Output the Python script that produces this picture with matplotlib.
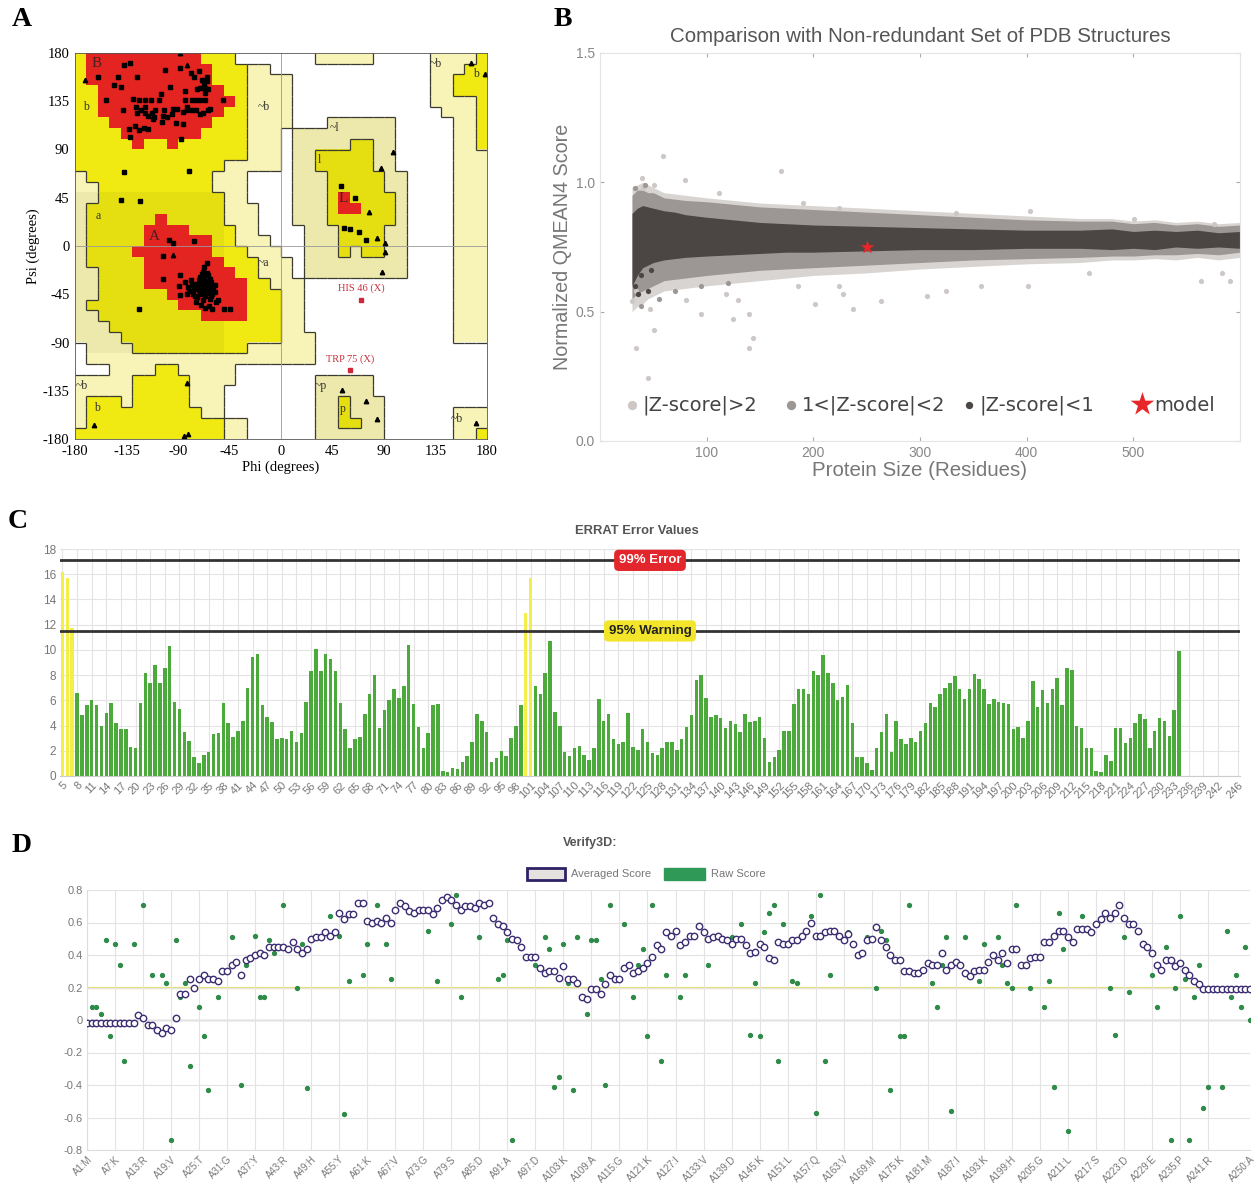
import numpy as np
import matplotlib
matplotlib.use("Agg")
import matplotlib.pyplot as plt
import matplotlib.transforms as mtrans
from matplotlib.collections import LineCollection
from matplotlib.colors import ListedColormap

W, H = 1256, 1187

def frame(l, t, r, b):
    return [l / W, 1 - b / H, (r - l) / W, (b - t) / H]

# ---------------- data: A (Ramachandran) ----------------
# one row per 10 deg of psi (top row = 170..180), columns = phi bins of 10 deg from -180
# P = generously allowed, Y = additional allowed, R = most favoured
rama_rows = [
    "Y0 R1-10 Y11-13 P21-25 P31-34 Y35",
    "Y0 R1-11 Y12-14 P15-16 P31-33 Y34-35",
    "Y0 R1-11 Y12-14 P15-18 P31-32 Y33-35",
    "Y0-1 R2-12 Y13-14 P15-18 P31-32 Y33-35",
    "Y0-1 R2-13 Y14 P15-18 P31-34 Y35",
    "Y0-1 R2-12 Y13-14 P15-18 P32-34 Y35",
    "Y0-2 R3-11 Y12-14 P15-18 P22-27 P33-34 Y35",
    "Y0-3 R4-10 Y11-14 P15-17 P19-27 P33-34 Y35",
    "Y0-4 R5 Y6-7 R8 Y9-14 P15-17 P19-23 Y24-25 P26-27 P33-34 Y35",
    "Y0-14 P15-17 P19-20 Y21-25 P26-27 P33-35",
    "Y0-12 P13-17 P19-20 Y21-25 P26-27 P33-35",
    "P0 Y1-11 P12-14 P19-21 Y22-26 P27-28 P33-35",
    "P0-1 Y2-11 P12-14 P19-21 Y22-26 P27-28 P33-35",
    "P0-1 Y2-12 P13-14 P19-21 Y22 R23 Y24-27 P28 P33-35",
    "P0 Y1-12 P13-15 P19-21 Y22 R23-24 Y25-27 P28 P33-35",
    "P0 Y1-6 R7 Y8-12 P13-15 P19-21 Y22-27 P28 P33-35",
    "P0 Y1-5 R6-9 Y10-13 P14-15 P20-22 Y23-26 P27-28 P33-35",
    "P0 Y1-5 R6-11 Y12-13 P14-16 P20-22 Y23-26 P27-28 P33-35",
    "P0 Y1-4 R5-11 Y12-14 P15-17 P20-22 Y23 P24 Y25-26 P27-28 P33-35",
    "P0 Y1-5 R6-12 Y13-15 P16-18 P20-28 P33-35",
    "P0-1 Y2-5 R6-13 Y14-15 P16-18 P20-28 P33-35",
    "P0-1 Y2-5 R6-14 Y15-16 P17-19 P33-35",
    "P0-1 Y2-7 R8-14 Y15-17 P18-19 P33-35",
    "P0 Y1-8 R9-14 Y15-17 P18-19 P33-35",
    "P0-1 Y2-10 R11-14 Y15-17 P18-19 P33-35",
    "P0-2 Y3-17 P18-19 P33-35",
    "P0-3 Y4-17 P18-20 P33-35",
    "P1-4 Y5-14 P15-20",
    "P1-20",
    "P3-6 Y7-8 P9-13",
    "P0-4 Y5-9 P10-13 P21-25",
    "P0-4 Y5-9 P10-12 P21-25",
    "P0 Y1-3 P4 Y5-9 P10-12 P21-22 Y23 P24-26",
    "P0 Y1-10 P11-12 P21-22 Y23 P24-26 P33-35",
    "P0 Y1-12 P13-14 P21-22 Y23-24 P25-26 P33-35",
    "Y0-12 P13-14 P21-26 P33-34 Y35",
]
# blocks (rows, cols) that look a little darker in the scanned plot
shade_blocks = [(13, 27, 0, 12), (6, 20, 19, 28), (30, 35, 21, 26)]

# residues (phi, psi), non-glycine
res_phi = [-160, -153, -146, -142, -140, -137, -132, -138, -133, -132, -126, -129, -127, -126,
           -124, -122, -124, -120, -119, -119, -119, -116, -114, -113, -111, -110, -107, -105,
           -102, -101, -100, -97, -95, -94, -92, -91, -88, -87, -86, -84, -84, -82, -79, -78,
           -76, -72, -71, -71, -69, -67, -66, -66, -65, -71, -68, -64, -62, -65, -74, -82, -78,
           -86, -103, -104, -116, -128, -112, -51, -66, -64, -74, -73,
           -98, -94, -76, -103, -103, -88, -89, -88, -79, -78, -76, -74, -72, -71, -69, -68, -67,
           -65, -64, -62, -61, -60, -68, -71, -73, -77, -80, -81, -75, -72, -69, -66, -64, -62,
           -61, -65, -70, -68, -66, -63, -58, -55, -58, -50, -45, -57, -59, -66, -63, -70, -73,
           -67, -64, -70, -66, -68, -72, -62, -60, -74, -78, -84, -82, -65, -69,
           -137, -80, -140, -123, -124, 52, 65, 55, 60, 68, 74]
res_psi = [158, 136, 150, 158, 148, 169, 171, 127, 109, 102, 158, 137, 130, 124,
           136, 127, 108, 110, 136, 130, 124, 121, 136, 124, 120, 127, 136, 142,
           127, 164, 120, 148, 123, 128, 115, 128, 166, 100, 114, 136, 145, 130, 161, 136,
           158, 163, 147, 136, 155, 152, 147, 136, 154, 123, 124, 127, 128, 158, 127, 127, 127,
           125, 121, 116, 109, 112, 118, 136, 143, 146, 136, 146,
           6, 3, 5, -9, -31, -27, -37, -46, -32, -42, -40, -35, -32, -29, -26, -24, -20,
           -16, -27, -31, -47, -59, -50, -45, -48, -45, -42, -38, -47, -41, -38, -38, -41, -38,
           -34, -33, -35, -43, -47, -44, -36, -50, -43, -59, -59, -52, -40, -58, -56, -55, -38,
           -30, -36, -40, -43, -35, -36, -49, -45, -52, -36, -34, -45, -25, -31,
           69, 70, 43, 42, -59, 56, 45, 17, 16, 13, 6]
# glycines (phi, psi)
gly_phi = [-171, -88, -82, -94, 98, 87, 77, 84, 91, 91, 88, 53, 74, 84, -82, -163, -85, -81,
           166, 178, 170]
gly_psi = [155, 180, 169, -8, 88, 73, 32, 7, 3, -6, -24, -134, -145, -161, -128, -167, -177,
           -175, 171, 160, -165]
outlier_names = ["HIS 46 (X)", "TRP 75 (X)"]
outlier_phi = [70, 60]
outlier_psi = [-50, -116]
region_labels = ["B", "b", "A", "a", "~b", "~l", "l", "L", "~a", "~b", "b", "~p", "p",
                 "~b", "b", "~b"]
region_phi = [-161, -170, -111, -160, -15, 47, 34, 54, -15, -174, -161, 35, 54, 135, 170, 154]
region_psi = [170, 130, 9, 28, 130, 110, 80, 44, -16, -131, -151, -131, -152, 170, 160, -161]

# ---------------- data: B (QMEAN) ----------------
q_size = [30, 35, 40, 45, 50, 60, 70, 80, 100, 125, 150, 175, 200, 250, 300, 350, 400,
          450, 480, 500, 520, 540, 560, 580, 600]
dark_top = [0.88, 0.90, 0.91, 0.905, 0.90, 0.89, 0.885, 0.875, 0.865, 0.855, 0.845, 0.84,
            0.835, 0.83, 0.825, 0.82, 0.815, 0.815, 0.82, 0.81, 0.815, 0.81, 0.815, 0.805, 0.81]
dark_bot = [0.60, 0.64, 0.67, 0.68, 0.69, 0.70, 0.705, 0.71, 0.715, 0.72, 0.725, 0.73,
            0.73, 0.735, 0.74, 0.74, 0.745, 0.745, 0.74, 0.745, 0.74, 0.75, 0.745, 0.75, 0.745]
mid_top = [0.95, 0.97, 0.97, 0.96, 0.96, 0.94, 0.935, 0.93, 0.925, 0.915, 0.905, 0.90,
           0.895, 0.885, 0.875, 0.865, 0.855, 0.85, 0.85, 0.84, 0.845, 0.835, 0.84, 0.83, 0.835]
mid_bot = [0.55, 0.57, 0.58, 0.59, 0.60, 0.62, 0.625, 0.63, 0.64, 0.65, 0.66, 0.665,
           0.67, 0.68, 0.69, 0.70, 0.705, 0.71, 0.715, 0.715, 0.72, 0.72, 0.725, 0.72, 0.73]
light_top = [0.98, 0.99, 1.0, 0.99, 0.98, 0.96, 0.955, 0.95, 0.94, 0.93, 0.92, 0.915,
             0.91, 0.90, 0.89, 0.88, 0.87, 0.86, 0.86, 0.85, 0.855, 0.845, 0.85, 0.84, 0.845]
light_bot = [0.50, 0.52, 0.53, 0.55, 0.56, 0.58, 0.585, 0.59, 0.60, 0.61, 0.62, 0.63,
             0.64, 0.65, 0.665, 0.675, 0.685, 0.69, 0.70, 0.70, 0.705, 0.70, 0.71, 0.70, 0.71]
light_x = [59, 170, 80, 39, 51, 34, 45, 51, 47, 95, 125, 140, 143, 140, 81, 237, 263, 228,
           307, 401, 563, 591, 583, 202, 186, 129, 118, 324, 357, 30, 34, 224, 458, 334,
           403, 576, 501, 112, 190, 224, 40]
light_y = [1.10, 1.045, 1.01, 1.015, 0.99, 0.36, 0.245, 0.43, 0.51, 0.49, 0.47, 0.36, 0.40,
           0.49, 0.545, 0.51, 0.54, 0.57, 0.56, 0.60, 0.62, 0.62, 0.65, 0.53, 0.60, 0.545,
           0.57, 0.58, 0.60, 0.54, 0.58, 0.60, 0.65, 0.88, 0.89, 0.84, 0.86, 0.96, 0.92, 0.90,
           0.98]
mid_x = [36, 55, 70, 33, 42, 38, 95, 120]
mid_y = [0.57, 0.55, 0.58, 0.98, 0.99, 0.52, 0.60, 0.61]
dark_x = [33, 36, 45, 38, 48]
dark_y = [0.60, 0.57, 0.58, 0.64, 0.66]
model_size, model_score = 250, 0.75

# ---------------- data: C (ERRAT) ----------------
errat_first = 5
errat_vals = [
    16.2, 15.7, 11.7, 6.6, 4.8, 5.6, 6.0, 5.6, 4.0, 5.0,
    5.8, 4.2, 3.7, 3.7, 2.3, 2.2, 5.8, 8.2, 7.4, 8.8,
    7.4, 8.6, 10.3, 5.9, 5.3, 3.5, 2.8, 1.5, 1.0, 1.7,
    1.9, 3.3, 3.4, 5.8, 4.2, 3.1, 3.6, 4.4, 7.0, 9.4,
    9.7, 5.6, 4.7, 4.3, 2.9, 3.0, 2.9, 3.6, 2.7, 3.4,
    5.9, 8.3, 10.1, 8.3, 9.7, 9.3, 8.3, 5.8, 3.7, 2.2,
    2.9, 3.1, 4.9, 6.5, 8.0, 3.8, 5.2, 6.0, 6.9, 6.2,
    7.1, 10.4, 5.7, 3.9, 2.2, 3.4, 5.6, 5.7, 0.4,
    0.35, 0.6, 0.55, 1.1, 1.6, 2.7, 4.9, 4.4, 3.5, 1.1,
    1.4, 2.0, 1.6, 3.0, 4.0, 5.6, 12.9, 15.7, 7.1, 6.5,
    8.2, 10.7, 5.1, 4.0, 1.9, 1.6, 2.2, 2.4, 1.7, 1.3,
    2.2, 6.1, 4.4, 4.9, 2.9, 2.5, 2.7, 5.0, 2.3, 2.1,
    3.7, 2.7, 1.8, 1.7, 2.2, 2.7, 2.7, 2.1, 2.9, 3.9,
    4.8, 7.6, 8.0, 6.2, 4.7, 4.8, 4.6, 3.8, 4.4, 4.1,
    3.5, 4.9, 4.3, 4.4, 4.7, 3.0, 1.1, 1.5, 2.1, 3.6,
    3.6, 5.7, 6.9, 6.9, 6.5, 8.3, 8.0, 9.6, 8.2, 7.4,
    6.0, 6.3,
    7.2, 4.2, 1.5, 1.5, 1.0, 0.5, 2.2, 3.5, 4.9, 1.9,
    4.4, 2.9, 2.5, 3.0, 2.7, 3.6, 4.2, 5.8, 5.5, 6.5,
    7.0, 7.4, 7.9, 6.9, 6.1, 6.9, 8.1, 7.7, 6.9, 5.7,
    6.1, 5.9, 5.8, 5.7, 3.7, 3.9, 3.0, 4.4, 7.5, 5.5,
    6.8, 5.8, 6.9, 7.8, 5.6, 8.6, 8.4, 4.0, 3.8, 2.2,
    2.2, 0.4, 0.3, 1.7, 1.2, 3.8, 3.8, 2.6, 3.0, 4.2,
    4.9, 4.5, 2.2, 3.6, 4.6, 4.4, 3.2, 5.2, 9.9,
]
errat_last = 246
errat_tick_res = list(range(5, 243, 3)) + [246]
error_99, warning_95 = 17.1, 11.5

# ---------------- data: D (Verify3D) ----------------
v3d_avg = [
    -0.02, -0.02, -0.02, -0.02, -0.02, -0.02, -0.02, -0.02, -0.02, -0.02,
    -0.02, 0.03, 0.01, -0.03, -0.03, -0.06, -0.08, -0.05, -0.06, 0.01,
    0.16, 0.16, 0.25, 0.20, 0.25, 0.28, 0.25, 0.25, 0.24, 0.30,
    0.30, 0.34, 0.36, 0.28, 0.37, 0.38, 0.40, 0.41, 0.40, 0.45,
    0.45, 0.45, 0.45, 0.44, 0.48, 0.44, 0.41, 0.44, 0.50, 0.51,
    0.51, 0.54, 0.52, 0.54, 0.66, 0.62, 0.65, 0.65, 0.72, 0.72,
    0.61, 0.60, 0.61, 0.60, 0.63, 0.60, 0.68, 0.72, 0.70, 0.67,
    0.66, 0.68, 0.68, 0.68, 0.65, 0.69, 0.74, 0.76, 0.74, 0.71,
    0.68, 0.70, 0.70, 0.69, 0.72, 0.71, 0.72, 0.63, 0.59, 0.58,
    0.54, 0.50, 0.49, 0.45, 0.39, 0.39, 0.39, 0.32, 0.29, 0.30,
    0.30, 0.26, 0.33, 0.25, 0.25, 0.23, 0.14, 0.13, 0.19, 0.19,
    0.16, 0.22, 0.28, 0.25, 0.25, 0.32, 0.34, 0.29, 0.30, 0.32,
    0.35, 0.39, 0.46, 0.44, 0.54, 0.52, 0.55, 0.46, 0.48, 0.52,
    0.52, 0.58, 0.54, 0.50, 0.51, 0.52, 0.50, 0.49, 0.47, 0.50,
    0.50, 0.46, 0.41, 0.42, 0.47, 0.45, 0.38, 0.37, 0.48, 0.47,
    0.47, 0.49, 0.49, 0.52, 0.55, 0.60, 0.52, 0.52, 0.54, 0.55,
    0.55, 0.52, 0.49, 0.53, 0.47, 0.40, 0.41, 0.49, 0.50, 0.57,
    0.49, 0.45, 0.40, 0.37, 0.37, 0.30, 0.30, 0.29, 0.29, 0.31,
    0.35, 0.34, 0.34, 0.41, 0.31, 0.34, 0.36, 0.34, 0.29, 0.27,
    0.30, 0.31, 0.31, 0.36, 0.40, 0.37, 0.41, 0.35, 0.44, 0.44,
    0.34, 0.34, 0.38, 0.39, 0.39, 0.48, 0.48, 0.52, 0.55, 0.55,
    0.51, 0.48, 0.56, 0.56, 0.56, 0.54, 0.59, 0.62, 0.66, 0.63,
    0.66, 0.71, 0.63, 0.59, 0.59, 0.55, 0.47, 0.45, 0.41, 0.34,
    0.31, 0.37, 0.37, 0.33, 0.35, 0.31, 0.28, 0.24, 0.22, 0.19,
    0.19, 0.19, 0.19, 0.19, 0.19, 0.19, 0.19, 0.19, 0.19, 0.19,
]
raw_res = [2, 3, 4, 5, 6, 7, 8, 9, 11, 13, 15, 17, 18, 19, 20, 21, 22, 23, 25, 26, 27, 29,
           32, 34, 35, 37, 38, 39, 40, 41, 43, 46, 47, 48, 53, 55, 56, 57, 60, 61, 63, 65,
           66, 67, 74, 76, 79, 80, 81, 85, 89, 90, 91, 92, 97, 99, 100, 101, 102, 103, 104,
           105, 106, 108, 109, 110, 111, 112, 113, 116, 118, 119, 120, 121, 122, 124, 125,
           128, 129, 134, 139, 141, 143, 144, 145, 146, 147, 148, 149, 150, 152, 153, 156,
           157, 158, 159, 160, 164, 168, 170, 171, 172, 173, 175, 176, 177, 182, 183, 184,
           185, 186, 189, 192, 193, 196, 197, 198, 199, 200, 203, 206, 207, 208, 209, 210,
           211, 214, 217, 220, 221, 223, 224, 229, 230, 232, 233, 234, 235, 236, 237, 238,
           239, 240, 241, 244, 245, 246, 247, 248, 249, 250]
raw_val = [0.08, 0.08, 0.04, 0.49, -0.10, 0.47, 0.34, -0.25, 0.47, 0.71, 0.28, 0.28, 0.23,
           -0.74, 0.49, 0.14, 0.23, -0.28, 0.08, -0.10, -0.43, 0.14, 0.51, -0.40, 0.34, 0.52,
           0.14, 0.14, 0.49, 0.41, 0.71, 0.20, 0.47, -0.42, 0.64, 0.52, -0.58, 0.24, 0.28,
           0.47, 0.71, 0.47, 0.25, 0.68, 0.55, 0.24, 0.59, 0.77, 0.14, 0.51, 0.25, 0.28,
           0.49, -0.74, 0.34, 0.51, 0.44, -0.41, -0.35, 0.47, 0.23, -0.43, 0.51, 0.04, 0.49,
           0.49, 0.25, -0.40, 0.71, 0.59, 0.14, 0.34, 0.44, -0.10, 0.71, -0.25, 0.28, 0.14,
           0.28, 0.34, 0.51, 0.59, -0.09, 0.23, -0.10, 0.54, 0.66, 0.71, -0.25, 0.59, 0.24,
           0.23, 0.64, -0.57, 0.77, -0.25, 0.28, 0.54, 0.51, 0.20, 0.55, 0.49, -0.43, -0.10,
           -0.10, 0.71, 0.23, 0.08, 0.34, 0.51, -0.56, 0.51, 0.24, 0.47, 0.51, 0.34, 0.23,
           0.20, 0.71, 0.20, 0.08, 0.24, -0.41, 0.66, 0.44, -0.68, 0.64, 0.59, 0.20, -0.09,
           0.51, 0.17, 0.28, 0.08, 0.45, -0.74, 0.20, 0.64, 0.25, -0.74, 0.14, 0.34, -0.54,
           -0.41, -0.41, 0.55, 0.14, 0.28, 0.08, 0.45, 0.0]
v3d_tick_res = [1, 7, 13, 19, 25, 31, 37, 43, 49, 55, 61, 67, 73, 79, 85, 91, 97, 103, 109,
                115, 121, 127, 133, 139, 145, 151, 157, 163, 169, 175, 181, 187, 193, 199,
                205, 211, 217, 223, 229, 235, 241, 250]
v3d_tick_lab = ["A1:M", "A7:K", "A13:R", "A19:V", "A25:T", "A31:G", "A37:Y", "A43:R",
                "A49:H", "A55:Y", "A61:K", "A67:V", "A73:G", "A79:S", "A85:D", "A91:A",
                "A97:D", "A103:K", "A109:A", "A115:G", "A121:K", "A127:I", "A133:V",
                "A139:D", "A145:K", "A151:L", "A157:Q", "A163:V", "A169:M", "A175:K",
                "A181:M", "A187:I", "A193:K", "A199:H", "A205:G", "A211:L", "A217:S",
                "A223:D", "A229:E", "A235:P", "A241:R", "A250:A"]

# ================= figure =================
plt.rcParams["font.family"] = ["Liberation Sans", "DejaVu Sans"]
plt.rcParams["axes.unicode_minus"] = False
fig = plt.figure(figsize=(W / 100, H / 100), dpi=100)
serif = ["Liberation Serif", "DejaVu Serif"]

for lab, x, y in [("A", 22, 20), ("B", 563, 20), ("C", 18, 522), ("D", 22, 846)]:
    fig.text(x / W, 1 - y / H, lab, family=serif, weight="bold", fontsize=20,
             ha="center", va="center")

# ---------------- A ----------------
ax = fig.add_axes(frame(75, 53, 487, 439))
codes = {".": 0, "P": 1, "Y": 2, "R": 3}
grid = np.zeros((36, 36), int)
for i, spec in enumerate(rama_rows):
    for tok in spec.split():
        a, _, b = tok[1:].partition("-")
        grid[i, int(a):int(b or a) + 1] = codes[tok[0]]
cmap = ListedColormap(["white", "#f8f3b6", "#f0ea12", "#e32420"])
ax.imshow(grid, cmap=cmap, vmin=-0.5, vmax=3.5, extent=[-180, 180, -180, 180],
          origin="upper", interpolation="nearest", aspect="auto")
shade = np.zeros((36, 36, 4))
shade[..., :3] = (0.35, 0.31, 0.12)
for r0, r1, c0, c1 in shade_blocks:
    blk = grid[r0:r1 + 1, c0:c1 + 1]
    shade[r0:r1 + 1, c0:c1 + 1, 3] = np.where((blk > 0) & (blk < 3), 0.07, 0)
ax.imshow(shade, extent=[-180, 180, -180, 180], origin="upper",
          interpolation="nearest", aspect="auto")
segs = []
for r in range(36):
    for c in range(36):
        k = grid[r, c]
        if c < 35 and k != grid[r, c + 1] and 3 not in (k, grid[r, c + 1]):
            x = -180 + 10 * (c + 1)
            segs.append([(x, 180 - 10 * (r + 1)), (x, 180 - 10 * r)])
        if r < 35 and k != grid[r + 1, c] and 3 not in (k, grid[r + 1, c]):
            y = 180 - 10 * (r + 1)
            segs.append([(-180 + 10 * c, y), (-170 + 10 * c, y)])
ax.add_collection(LineCollection(segs, colors="#3a3a30", linewidths=0.9))
ax.axhline(0, color="#999", lw=0.6)
ax.axvline(0, color="#999", lw=0.6)
ax.plot(res_phi, res_psi, "s", color="black", ms=3.0, ls="none")
ax.plot(gly_phi, gly_psi, "^", color="black", ms=3.2, ls="none")
ax.plot(outlier_phi, outlier_psi, "s", color="#d0283a", ms=3.2, ls="none")
for name, p, q in zip(outlier_names, outlier_phi, outlier_psi):
    ax.text(p, q + 6, name, family=serif, fontsize=7.5, color="#c8303a", ha="center",
            va="bottom")
for t, p, q in zip(region_labels, region_phi, region_psi):
    big = t in ("A", "B", "L")
    ax.text(p, q, t, family=serif, fontsize=11 if big else 8.5,
            color="#4a2020" if big else "#333", ha="center", va="center")
ax.set_xlim(-180, 180)
ax.set_ylim(-180, 180)
ticks = [-180, -135, -90, -45, 0, 45, 90, 135, 180]
ax.set_xticks(ticks)
ax.set_yticks(ticks)
ax.tick_params(length=0, pad=4)
for lbl in ax.get_xticklabels() + ax.get_yticklabels():
    lbl.set_family(serif)
    lbl.set_fontsize(10.5)
ax.set_xlabel("Phi (degrees)", family=serif, fontsize=10.5, labelpad=2)
ax.set_ylabel("Psi (degrees)", family=serif, fontsize=10.5, labelpad=2)
for s in ax.spines.values():
    s.set_color("#555")
    s.set_linewidth(0.6)

# ---------------- B ----------------
ax = fig.add_axes(frame(600, 53, 1240, 441))
ax.fill_between(q_size, light_bot, light_top, color="#d8d4d1", lw=0)
ax.fill_between(q_size, mid_bot, mid_top, color="#9c9794", lw=0)
ax.fill_between(q_size, dark_bot, dark_top, color="#4b4644", lw=0)
ax.scatter(light_x, light_y, s=14, color="#cdc8c5", lw=0)
ax.scatter(mid_x, mid_y, s=14, color="#9c9794", lw=0)
ax.scatter(dark_x, dark_y, s=14, color="#4b4644", lw=0)
ax.scatter([model_size], [model_score], marker="*", s=110, color="#e8262a", lw=0, zorder=5)
leg_y = 0.139
for x, col, sz, txt in [(30, "#cdc8c5", 45, "|Z-score|>2"), (179, "#9c9794", 45, "1<|Z-score|<2"),
                        (346, "#4b4644", 28, "|Z-score|<1")]:
    ax.scatter([x], [leg_y], s=sz, color=col, lw=0)
    ax.text(x + 10, leg_y, txt, fontsize=14, color="#444", va="center", family="DejaVu Sans")
ax.scatter([508], [leg_y + 0.003], marker="*", s=320, color="#e8262a", lw=0)
ax.text(520, leg_y, "model", fontsize=14, color="#444", va="center", family="DejaVu Sans")
ax.set_xlim(0, 600)
ax.set_ylim(0, 1.5)
ax.set_xticks([100, 200, 300, 400, 500])
ax.set_yticks([0.0, 0.5, 1.0, 1.5])
ax.set_yticklabels(["0.0", "0.5", "1.0", "1.5"])
ax.tick_params(direction="in", length=3, color="#aaa", labelcolor="#888", labelsize=10,
               top=True, right=True)
ax.set_title("Comparison with Non-redundant Set of PDB Structures", fontsize=14.8,
             color="#555", pad=8)
ax.set_xlabel("Protein Size (Residues)", fontsize=14.8, color="#777", labelpad=1)
ax.set_ylabel("Normalized QMEAN4 Score", fontsize=14.2, color="#777", labelpad=3)
for s in ax.spines.values():
    s.set_color("#e4e4e4")

# ---------------- C ----------------
ax = fig.add_axes(frame(60, 549, 1240, 776))
idx = np.arange(len(errat_vals))
cols = ["#f4ee48" if v > warning_95 else "#4caa3c" for v in errat_vals]
ax.bar(idx, errat_vals, width=0.72, color=cols, zorder=2)
ax.set_xlim(-0.5, errat_last - errat_first + 0.5)
ax.set_ylim(0, 18)
ax.set_yticks(range(0, 19, 2))
ax.set_xticks([r - errat_first for r in errat_tick_res])
ax.set_xticklabels([str(r) for r in errat_tick_res], rotation=45, ha="right",
                   va="top", rotation_mode="anchor")
ax.grid(True, color="#e3e3e3", lw=0.8, zorder=0)
ax.tick_params(length=0, labelsize=8.5, labelcolor="#777", pad=3)
ax.tick_params(axis="x", labelsize=8, pad=3)
for s in ("top", "right", "left"):
    ax.spines[s].set_visible(False)
ax.spines["bottom"].set_color("#cccccc")
tr = mtrans.blended_transform_factory(ax.transAxes, ax.transData)
for yv, txt, fc, tc in [(error_99, "99% Error", "#e3262c", "white"),
                        (warning_95, "95% Warning", "#f3e62a", "#222")]:
    ax.axhline(yv, color="#333", lw=2, zorder=3)
    ax.text(0.5, yv, txt, transform=tr, ha="center", va="center", fontsize=9.5,
            weight="bold", color=tc, zorder=4,
            bbox=dict(boxstyle="round,pad=0.35", fc=fc, ec="none"))
fig.text(637 / W, 1 - 531 / H, "ERRAT Error Values", fontsize=9.4, weight="bold",
         color="#555", ha="center", va="center")

# ---------------- D ----------------
ax = fig.add_axes(frame(87, 890, 1250, 1150))
res = np.arange(1, len(v3d_avg) + 1)
ax.axhline(0, color="#b0b0b0", lw=1, zorder=1)
ax.axhline(0.2, color="#e6e07a", lw=1.6, zorder=1)
ax.plot(raw_res, raw_val, "o", color="#2e8b48", ms=2.8, ls="none", zorder=2)
ax.plot(res, v3d_avg, "o", mfc="white", mec="#3d2d72", mew=1.0, ms=4.6, ls="none",
        zorder=3)
ax.set_xlim(1, len(v3d_avg))
ax.set_ylim(-0.8, 0.8)
ax.set_yticks([-0.8, -0.6, -0.4, -0.2, 0, 0.2, 0.4, 0.6, 0.8])
ax.set_yticklabels(["-0.8", "-0.6", "-0.4", "-0.2", "0", "0.2", "0.4", "0.6", "0.8"])
ax.set_xticks(v3d_tick_res)
ax.set_xticklabels(v3d_tick_lab, rotation=45, ha="right", va="top", rotation_mode="anchor")
ax.grid(True, color="#e3e3e3", lw=0.8, zorder=0)
ax.tick_params(length=0, labelsize=8, labelcolor="#777", pad=3)
ax.tick_params(axis="x", labelsize=7, pad=3)
for s in ("top", "right"):
    ax.spines[s].set_visible(False)
ax.spines["left"].set_color("#dddddd")
ax.spines["bottom"].set_color("#dddddd")

fig.text(590 / W, 1 - 843 / H, "Verify3D:", fontsize=9, weight="bold", color="#555",
         ha="center", va="center")
la = fig.add_axes(frame(520, 864, 780, 884))
la.set_xlim(520, 780)
la.set_ylim(884, 864)
la.axis("off")
la.add_patch(plt.Rectangle((527, 868), 38, 12, fc="#e4e1de", ec="#2e2266", lw=2))
la.text(571, 874, "Averaged Score", fontsize=8, color="#777", va="center")
la.add_patch(plt.Rectangle((664, 868), 41, 12, fc="#2f9a58", ec="#2f9a58", lw=1))
la.text(711, 874, "Raw Score", fontsize=8, color="#777", va="center")

fig.savefig("out.png", dpi=100)
